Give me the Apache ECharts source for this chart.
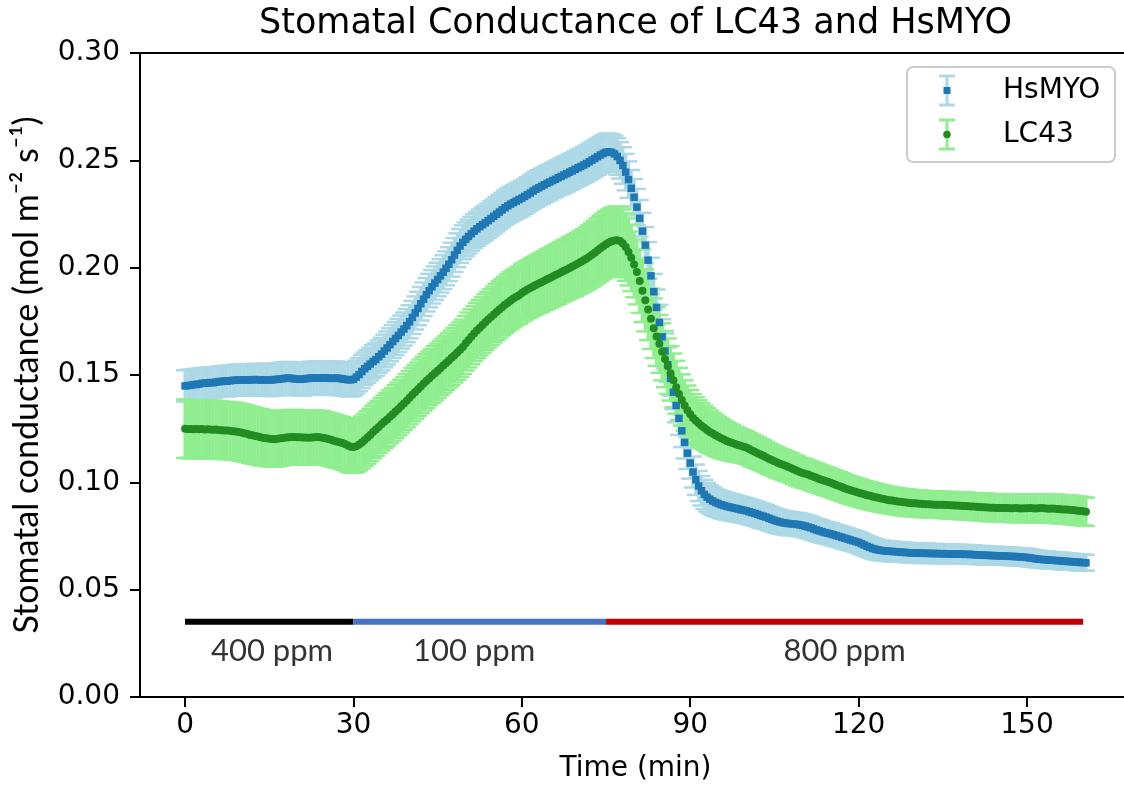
<!DOCTYPE html>
<html>
<head>
<meta charset="utf-8">
<script src="https://cdn.jsdelivr.net/npm/echarts@6/dist/echarts.min.js"></script>
<style>
html,body{margin:0;padding:0;background:#ffffff;}
#chart{width:1124px;height:786px;}
</style>
</head>
<body>
<div id="chart"></div>
<script>
// ---------------- DATA ----------------
const timeStartMin = 0;
const timeStepMin = 0.5;

const hsmyoMean = [
0.1449,0.1451,0.1452,0.1455,0.1456,0.1458,0.1461,0.1462,0.1463,0.1465,0.1464,0.1467,0.1469,0.1470,0.1472,0.1471,0.1473,0.1475,0.1476,0.1477,
0.1476,0.1478,0.1477,0.1476,0.1478,0.1479,0.1477,0.1476,0.1478,0.1477,0.1476,0.1477,0.1479,0.1480,0.1482,0.1483,0.1485,0.1486,0.1484,0.1482,
0.1481,0.1480,0.1481,0.1483,0.1484,0.1486,0.1487,0.1486,0.1485,0.1486,0.1487,0.1486,0.1484,0.1485,0.1486,0.1484,0.1482,0.1480,0.1478,0.1477,
0.1480,0.1490,0.1502,0.1516,0.1529,0.1540,0.1551,0.1563,0.1572,0.1585,0.1597,0.1612,0.1626,0.1641,0.1656,0.1670,0.1684,0.1700,0.1714,0.1730,
0.1748,0.1768,0.1789,0.1810,0.1832,0.1853,0.1874,0.1893,0.1911,0.1928,0.1945,0.1962,0.1979,0.1997,0.2016,0.2037,0.2059,0.2081,0.2101,0.2118,
0.2132,0.2145,0.2158,0.2170,0.2181,0.2191,0.2200,0.2209,0.2219,0.2229,0.2239,0.2249,0.2259,0.2269,0.2279,0.2288,0.2296,0.2303,0.2310,0.2317,
0.2324,0.2332,0.2340,0.2348,0.2357,0.2365,0.2372,0.2379,0.2386,0.2393,0.2399,0.2406,0.2412,0.2419,0.2425,0.2432,0.2438,0.2445,0.2451,0.2458,
0.2465,0.2471,0.2478,0.2485,0.2493,0.2501,0.2509,0.2517,0.2525,0.2532,0.2538,0.2540,0.2537,0.2530,0.2518,0.2500,0.2476,0.2445,0.2410,0.2370,
0.2328,0.2282,0.2230,0.2170,0.2105,0.2035,0.1962,0.1888,0.1815,0.1745,0.1678,0.1612,0.1548,0.1484,0.1420,0.1358,0.1298,0.1240,0.1186,0.1136,
0.1090,0.1048,0.1012,0.0983,0.0961,0.0944,0.0931,0.0921,0.0913,0.0906,0.0901,0.0896,0.0892,0.0888,0.0885,0.0882,0.0879,0.0876,0.0873,0.0870,
0.0867,0.0863,0.0859,0.0855,0.0851,0.0846,0.0842,0.0838,0.0833,0.0828,0.0823,0.0819,0.0815,0.0812,0.0810,0.0808,0.0807,0.0806,0.0804,0.0802,
0.0799,0.0796,0.0792,0.0788,0.0783,0.0778,0.0774,0.0770,0.0766,0.0763,0.0760,0.0756,0.0752,0.0748,0.0744,0.0740,0.0736,0.0732,0.0728,0.0724,
0.0720,0.0714,0.0708,0.0702,0.0697,0.0692,0.0688,0.0685,0.0683,0.0681,0.0680,0.0679,0.0678,0.0677,0.0676,0.0675,0.0674,0.0673,0.0672,0.0671,
0.0670,0.0671,0.0670,0.0669,0.0670,0.0669,0.0668,0.0669,0.0668,0.0667,0.0668,0.0667,0.0666,0.0667,0.0666,0.0665,0.0666,0.0665,0.0664,0.0665,
0.0664,0.0663,0.0662,0.0661,0.0661,0.0660,0.0660,0.0659,0.0659,0.0658,0.0658,0.0657,0.0657,0.0656,0.0655,0.0655,0.0654,0.0653,0.0652,0.0651,
0.0650,0.0648,0.0646,0.0644,0.0642,0.0641,0.0640,0.0639,0.0638,0.0637,0.0636,0.0635,0.0634,0.0633,0.0632,0.0631,0.0630,0.0629,0.0628,0.0627,
0.0626,0.0625
];

const hsmyoErr = [
0.0073,0.0073,0.0072,0.0072,0.0072,0.0071,0.0071,0.0071,0.0071,0.0070,0.0070,0.0070,0.0070,0.0070,0.0070,0.0071,0.0071,0.0071,0.0071,0.0072,
0.0072,0.0072,0.0072,0.0073,0.0073,0.0073,0.0073,0.0073,0.0074,0.0074,0.0074,0.0074,0.0074,0.0074,0.0075,0.0075,0.0075,0.0075,0.0075,0.0075,
0.0075,0.0075,0.0076,0.0076,0.0076,0.0076,0.0076,0.0076,0.0077,0.0077,0.0077,0.0077,0.0077,0.0077,0.0077,0.0077,0.0077,0.0077,0.0077,0.0077,
0.0077,0.0077,0.0077,0.0077,0.0076,0.0076,0.0076,0.0076,0.0076,0.0076,0.0076,0.0076,0.0077,0.0077,0.0077,0.0077,0.0077,0.0077,0.0077,0.0077,
0.0077,0.0077,0.0077,0.0078,0.0078,0.0078,0.0078,0.0078,0.0078,0.0078,0.0078,0.0078,0.0079,0.0079,0.0079,0.0079,0.0079,0.0079,0.0079,0.0079,
0.0079,0.0079,0.0079,0.0079,0.0079,0.0080,0.0080,0.0080,0.0080,0.0080,0.0080,0.0080,0.0080,0.0080,0.0080,0.0081,0.0081,0.0081,0.0081,0.0081,
0.0081,0.0081,0.0081,0.0081,0.0081,0.0082,0.0082,0.0082,0.0082,0.0082,0.0082,0.0082,0.0082,0.0082,0.0083,0.0083,0.0083,0.0083,0.0083,0.0083,
0.0083,0.0083,0.0083,0.0084,0.0084,0.0084,0.0084,0.0084,0.0084,0.0085,0.0085,0.0085,0.0085,0.0085,0.0085,0.0085,0.0085,0.0085,0.0085,0.0085,
0.0085,0.0085,0.0085,0.0085,0.0084,0.0084,0.0084,0.0083,0.0083,0.0082,0.0082,0.0081,0.0080,0.0080,0.0079,0.0078,0.0077,0.0076,0.0075,0.0074,
0.0073,0.0072,0.0071,0.0070,0.0069,0.0068,0.0067,0.0066,0.0065,0.0064,0.0063,0.0063,0.0062,0.0062,0.0061,0.0061,0.0060,0.0060,0.0059,0.0059,
0.0058,0.0058,0.0058,0.0057,0.0057,0.0057,0.0056,0.0056,0.0056,0.0055,0.0055,0.0055,0.0054,0.0054,0.0054,0.0054,0.0053,0.0053,0.0053,0.0053,
0.0052,0.0052,0.0052,0.0052,0.0051,0.0051,0.0051,0.0051,0.0050,0.0050,0.0050,0.0050,0.0049,0.0049,0.0049,0.0049,0.0049,0.0048,0.0048,0.0048,
0.0048,0.0048,0.0047,0.0047,0.0047,0.0047,0.0047,0.0046,0.0046,0.0046,0.0046,0.0046,0.0046,0.0045,0.0045,0.0045,0.0045,0.0045,0.0045,0.0045,
0.0045,0.0045,0.0045,0.0045,0.0044,0.0044,0.0044,0.0044,0.0044,0.0044,0.0044,0.0044,0.0044,0.0043,0.0043,0.0043,0.0043,0.0043,0.0043,0.0043,
0.0043,0.0043,0.0042,0.0042,0.0042,0.0042,0.0042,0.0042,0.0041,0.0041,0.0041,0.0041,0.0041,0.0041,0.0041,0.0040,0.0040,0.0040,0.0040,0.0040,
0.0040,0.0040,0.0039,0.0039,0.0039,0.0039,0.0039,0.0039,0.0038,0.0038,0.0038,0.0038,0.0038,0.0038,0.0038,0.0037,0.0037,0.0037,0.0037,0.0037,
0.0037,0.0037
];

const lc43Mean = [
0.1250,0.1249,0.1248,0.1247,0.1248,0.1247,0.1248,0.1246,0.1247,0.1246,0.1245,0.1246,0.1244,0.1243,0.1242,0.1241,0.1240,0.1238,0.1237,0.1235,
0.1232,0.1229,0.1226,0.1222,0.1219,0.1216,0.1213,0.1210,0.1207,0.1205,0.1203,0.1202,0.1201,0.1203,0.1205,0.1207,0.1209,0.1210,0.1211,0.1211,
0.1210,0.1210,0.1209,0.1209,0.1208,0.1209,0.1210,0.1211,0.1210,0.1208,0.1205,0.1202,0.1198,0.1194,0.1190,0.1187,0.1183,0.1178,0.1172,0.1166,
0.1165,0.1168,0.1176,0.1186,0.1197,0.1209,0.1221,0.1234,0.1246,0.1258,0.1270,0.1282,0.1293,0.1305,0.1317,0.1330,0.1342,0.1355,0.1367,0.1380,
0.1394,0.1408,0.1421,0.1434,0.1447,0.1460,0.1472,0.1484,0.1496,0.1508,0.1520,0.1532,0.1544,0.1556,0.1568,0.1580,0.1592,0.1605,0.1618,0.1631,
0.1648,0.1663,0.1678,0.1693,0.1707,0.1720,0.1733,0.1746,0.1758,0.1770,0.1782,0.1794,0.1805,0.1816,0.1827,0.1837,0.1847,0.1856,0.1864,0.1872,
0.1882,0.1890,0.1898,0.1905,0.1912,0.1919,0.1926,0.1932,0.1939,0.1946,0.1952,0.1959,0.1966,0.1972,0.1979,0.1986,0.1992,0.1999,0.2006,0.2012,
0.2019,0.2026,0.2034,0.2042,0.2051,0.2060,0.2070,0.2080,0.2090,0.2100,0.2109,0.2117,0.2123,0.2127,0.2128,0.2124,0.2113,0.2096,0.2073,0.2046,
0.2015,0.1980,0.1938,0.1893,0.1848,0.1805,0.1762,0.1718,0.1679,0.1645,0.1608,0.1574,0.1541,0.1508,0.1475,0.1443,0.1412,0.1384,0.1358,0.1336,
0.1317,0.1300,0.1287,0.1275,0.1264,0.1254,0.1244,0.1235,0.1227,0.1219,0.1212,0.1205,0.1199,0.1193,0.1188,0.1183,0.1178,0.1174,0.1170,0.1166,
0.1162,0.1155,0.1148,0.1142,0.1136,0.1130,0.1124,0.1117,0.1110,0.1104,0.1098,0.1092,0.1087,0.1082,0.1077,0.1072,0.1066,0.1060,0.1054,0.1048,
0.1044,0.1040,0.1036,0.1031,0.1026,0.1021,0.1016,0.1011,0.1007,0.1003,0.0998,0.0993,0.0988,0.0983,0.0978,0.0973,0.0968,0.0964,0.0960,0.0956,
0.0952,0.0948,0.0944,0.0940,0.0937,0.0934,0.0931,0.0928,0.0925,0.0922,0.0919,0.0917,0.0915,0.0913,0.0911,0.0909,0.0907,0.0906,0.0904,0.0903,
0.0902,0.0901,0.0900,0.0899,0.0898,0.0898,0.0897,0.0896,0.0896,0.0895,0.0895,0.0894,0.0894,0.0893,0.0892,0.0892,0.0891,0.0890,0.0890,0.0889,
0.0888,0.0887,0.0886,0.0885,0.0884,0.0884,0.0883,0.0882,0.0882,0.0881,0.0881,0.0880,0.0881,0.0880,0.0879,0.0879,0.0880,0.0879,0.0878,0.0879,
0.0879,0.0880,0.0879,0.0878,0.0879,0.0880,0.0879,0.0878,0.0877,0.0878,0.0877,0.0876,0.0875,0.0874,0.0873,0.0872,0.0871,0.0870,0.0868,0.0867,
0.0865,0.0863
];

const lc43Err = [
0.0136,0.0136,0.0136,0.0135,0.0135,0.0135,0.0135,0.0135,0.0134,0.0134,0.0134,0.0134,0.0134,0.0133,0.0133,0.0133,0.0133,0.0133,0.0132,0.0132,
0.0132,0.0132,0.0131,0.0131,0.0131,0.0130,0.0130,0.0130,0.0129,0.0129,0.0129,0.0128,0.0128,0.0128,0.0127,0.0127,0.0127,0.0126,0.0126,0.0126,
0.0126,0.0125,0.0125,0.0125,0.0124,0.0124,0.0124,0.0123,0.0123,0.0123,0.0122,0.0122,0.0122,0.0122,0.0121,0.0121,0.0121,0.0121,0.0121,0.0121,
0.0121,0.0121,0.0121,0.0121,0.0122,0.0122,0.0122,0.0122,0.0122,0.0122,0.0122,0.0123,0.0123,0.0123,0.0123,0.0123,0.0123,0.0123,0.0123,0.0124,
0.0124,0.0124,0.0124,0.0124,0.0125,0.0125,0.0125,0.0125,0.0125,0.0126,0.0126,0.0126,0.0126,0.0126,0.0126,0.0127,0.0127,0.0127,0.0127,0.0127,
0.0127,0.0128,0.0128,0.0128,0.0129,0.0129,0.0129,0.0130,0.0130,0.0130,0.0130,0.0131,0.0131,0.0131,0.0131,0.0132,0.0132,0.0132,0.0132,0.0133,
0.0133,0.0134,0.0134,0.0135,0.0135,0.0136,0.0136,0.0137,0.0137,0.0138,0.0138,0.0139,0.0139,0.0140,0.0140,0.0141,0.0141,0.0142,0.0142,0.0143,
0.0143,0.0144,0.0145,0.0146,0.0147,0.0148,0.0149,0.0150,0.0151,0.0152,0.0153,0.0154,0.0155,0.0156,0.0157,0.0158,0.0158,0.0157,0.0156,0.0155,
0.0153,0.0151,0.0149,0.0147,0.0145,0.0143,0.0141,0.0139,0.0137,0.0135,0.0133,0.0131,0.0129,0.0127,0.0125,0.0123,0.0121,0.0119,0.0117,0.0115,
0.0113,0.0111,0.0109,0.0107,0.0105,0.0103,0.0101,0.0099,0.0097,0.0095,0.0093,0.0091,0.0089,0.0087,0.0085,0.0083,0.0081,0.0079,0.0077,0.0076,
0.0075,0.0074,0.0074,0.0073,0.0073,0.0072,0.0072,0.0071,0.0071,0.0070,0.0070,0.0070,0.0069,0.0069,0.0069,0.0068,0.0068,0.0068,0.0068,0.0067,
0.0067,0.0067,0.0066,0.0066,0.0066,0.0066,0.0065,0.0065,0.0065,0.0065,0.0064,0.0064,0.0064,0.0064,0.0064,0.0063,0.0063,0.0063,0.0063,0.0063,
0.0063,0.0062,0.0062,0.0062,0.0062,0.0062,0.0062,0.0061,0.0061,0.0061,0.0061,0.0061,0.0061,0.0061,0.0061,0.0061,0.0061,0.0061,0.0061,0.0061,
0.0061,0.0061,0.0061,0.0061,0.0061,0.0061,0.0061,0.0061,0.0061,0.0061,0.0061,0.0061,0.0061,0.0062,0.0062,0.0062,0.0062,0.0062,0.0062,0.0062,
0.0062,0.0062,0.0062,0.0062,0.0063,0.0063,0.0063,0.0063,0.0063,0.0063,0.0063,0.0063,0.0064,0.0064,0.0064,0.0064,0.0064,0.0064,0.0064,0.0064,
0.0064,0.0064,0.0065,0.0065,0.0065,0.0065,0.0065,0.0065,0.0065,0.0065,0.0066,0.0066,0.0066,0.0066,0.0066,0.0066,0.0066,0.0066,0.0066,0.0066,
0.0066,0.0066
];

const xTicks = [0, 30, 60, 90, 120, 150];

// CO2 treatment periods (min) and their labels
const co2Labels = ['400 ppm', '100 ppm', '800 ppm'];
const co2Start = [0, 30, 75];
const co2End = [30, 75, 160];
const co2LabelTime = [15.5, 51.5, 117.5];
const co2BarLevel = 0.035;

// ---------------- STYLE ----------------
const C_BLUE = '#1f77b4', C_LIGHTBLUE = '#add8e6';
const C_GREEN = '#228b22', C_LIGHTGREEN = '#90ee90';
const CO2_COLORS = ['#000000', '#4472c4', '#c00000'];
const SANS = 'DejaVu Sans';
const ALT = 'Lato, "DejaVu Sans", sans-serif';

const times = hsmyoMean.map((_, i) => timeStartMin + i * timeStepMin);
const toErr = (mean, err) => mean.map((m, i) => [times[i], m - err[i], m + err[i]]);
const toPts = (mean) => mean.map((m, i) => [times[i], m]);

function errRenderer(color) {
  return function (params, api) {
    const x = api.value(0);
    const lo = api.coord([x, api.value(1)]);
    const hi = api.coord([x, api.value(2)]);
    const cap = 9;
    const st = { stroke: color, lineWidth: 3.2, fill: null };
    return {
      type: 'group',
      children: [
        { type: 'line', shape: { x1: lo[0], y1: lo[1], x2: hi[0], y2: hi[1] }, style: st },
        { type: 'line', shape: { x1: lo[0] - cap, y1: lo[1], x2: lo[0] + cap, y2: lo[1] }, style: { stroke: color, lineWidth: 2.5 } },
        { type: 'line', shape: { x1: hi[0] - cap, y1: hi[1], x2: hi[0] + cap, y2: hi[1] }, style: { stroke: color, lineWidth: 2.5 } }
      ]
    };
  };
}

const chart = echarts.init(document.getElementById('chart'), null, { renderer: 'canvas' });

const series = [
  { name: 'HsMYO err', type: 'custom', renderItem: errRenderer(C_LIGHTBLUE), data: toErr(hsmyoMean, hsmyoErr),
    encode: { x: 0, y: [1, 2] }, z: 2, silent: true, animation: false },
  { name: 'LC43 err', type: 'custom', renderItem: errRenderer(C_LIGHTGREEN), data: toErr(lc43Mean, lc43Err),
    encode: { x: 0, y: [1, 2] }, z: 2, silent: true, animation: false },
  { name: 'HsMYO', type: 'scatter', data: toPts(hsmyoMean), symbol: 'rect', symbolSize: 7.5,
    itemStyle: { color: C_BLUE, opacity: 1 }, z: 3, silent: true, animation: false },
  { name: 'LC43', type: 'scatter', data: toPts(lc43Mean), symbol: 'circle', symbolSize: 8,
    itemStyle: { color: C_GREEN, opacity: 1 }, z: 3, silent: true, animation: false }
];

co2Labels.forEach((lab, i) => {
  series.push({
    name: lab + ' bar', type: 'line', data: [[co2Start[i], co2BarLevel], [co2End[i], co2BarLevel]],
    showSymbol: false, symbol: 'none', lineStyle: { color: CO2_COLORS[i], width: 6, cap: 'butt' },
    z: 4, silent: true, animation: false
  });
});
series.push({
  name: 'co2 labels', type: 'scatter', symbolSize: 1,
  data: co2Labels.map((lab, i) => ({ name: lab, value: [co2LabelTime[i], co2BarLevel] })),
  itemStyle: { color: 'rgba(0,0,0,0)' },
  label: { show: true, position: 'bottom', distance: 13, formatter: '{b}',
    fontFamily: ALT, fontSize: 31, color: '#000' },
  z: 4, silent: true, animation: false
});

const gridLeft = 140, gridTop = 53, gridWidth = 991, gridHeight = 644;

const option = {
  backgroundColor: '#ffffff',
  animation: false,
  title: {
    text: 'Stomatal Conductance of LC43 and HsMYO',
    left: gridLeft + gridWidth / 2, top: 6, textAlign: 'center', padding: 0,
    textStyle: { fontFamily: SANS, fontSize: 35, fontWeight: 'normal', color: '#000' }
  },
  grid: {
    left: gridLeft, top: gridTop, width: gridWidth, height: gridHeight,
    show: true, borderColor: '#000', borderWidth: 2, backgroundColor: 'transparent',
    containLabel: false, outerBoundsMode: 'none'
  },
  xAxis: {
    type: 'value', min: -8.025, max: 168.525,
    name: 'Time (min)', nameLocation: 'middle', nameGap: 58,
    nameTextStyle: { fontFamily: SANS, fontSize: 28, color: '#000' },
    axisLine: { show: true, onZero: false, lineStyle: { color: '#000', width: 2 } },
    axisTick: { show: true, inside: false, length: 10, customValues: xTicks, lineStyle: { color: '#000', width: 2 } },
    axisLabel: { show: true, customValues: xTicks, margin: 15, fontFamily: SANS, fontSize: 28, color: '#000',
      formatter: v => String(v) },
    splitLine: { show: false }
  },
  yAxis: {
    type: 'value', min: 0, max: 0.30, interval: 0.05,
    name: 'Stomatal conductance (mol m\u207B\u00B2 s\u207B\u00B9)', nameLocation: 'middle', nameGap: 96, nameRotate: 90,
    nameTextStyle: { fontFamily: ALT, fontSize: 34, color: '#000' },
    axisLine: { show: true, onZero: false, lineStyle: { color: '#000', width: 2 } },
    axisTick: { show: true, inside: false, length: 10, lineStyle: { color: '#000', width: 2 } },
    axisLabel: { show: true, margin: 20, fontFamily: SANS, fontSize: 28, color: '#000',
      formatter: v => v.toFixed(2) },
    splitLine: { show: false }
  },
  legend: { show: false },
  tooltip: { show: false },
  series: series,
  graphic: [
    { type: 'rect', z: 100, shape: { x: 907, y: 67, width: 208, height: 95, r: 6 },
      style: { fill: 'rgba(255,255,255,0.8)', stroke: '#cccccc', lineWidth: 2 } },
    // HsMYO handle
    { type: 'line', z: 101, shape: { x1: 947, y1: 76, x2: 947, y2: 105 }, style: { stroke: C_LIGHTBLUE, lineWidth: 3 } },
    { type: 'line', z: 101, shape: { x1: 939, y1: 76, x2: 955, y2: 76 }, style: { stroke: C_LIGHTBLUE, lineWidth: 3 } },
    { type: 'line', z: 101, shape: { x1: 939, y1: 105, x2: 955, y2: 105 }, style: { stroke: C_LIGHTBLUE, lineWidth: 3 } },
    { type: 'rect', z: 102, shape: { x: 943.5, y: 87, width: 7, height: 7 }, style: { fill: C_BLUE } },
    { type: 'text', z: 102, style: { text: 'HsMYO', x: 1003, y: 91, fontFamily: SANS, fontSize: 28,
      fill: '#000', verticalAlign: 'middle', align: 'left' } },
    // LC43 handle
    { type: 'line', z: 101, shape: { x1: 947, y1: 120, x2: 947, y2: 149 }, style: { stroke: C_LIGHTGREEN, lineWidth: 3 } },
    { type: 'line', z: 101, shape: { x1: 939, y1: 120, x2: 955, y2: 120 }, style: { stroke: C_LIGHTGREEN, lineWidth: 3 } },
    { type: 'line', z: 101, shape: { x1: 939, y1: 149, x2: 955, y2: 149 }, style: { stroke: C_LIGHTGREEN, lineWidth: 3 } },
    { type: 'circle', z: 102, shape: { cx: 947, cy: 134.5, r: 3.8 }, style: { fill: C_GREEN } },
    { type: 'text', z: 102, style: { text: 'LC43', x: 1003, y: 134.5, fontFamily: SANS, fontSize: 28,
      fill: '#000', verticalAlign: 'middle', align: 'left' } }
  ]
};

chart.setOption(option);
</script>
</body>
</html>
